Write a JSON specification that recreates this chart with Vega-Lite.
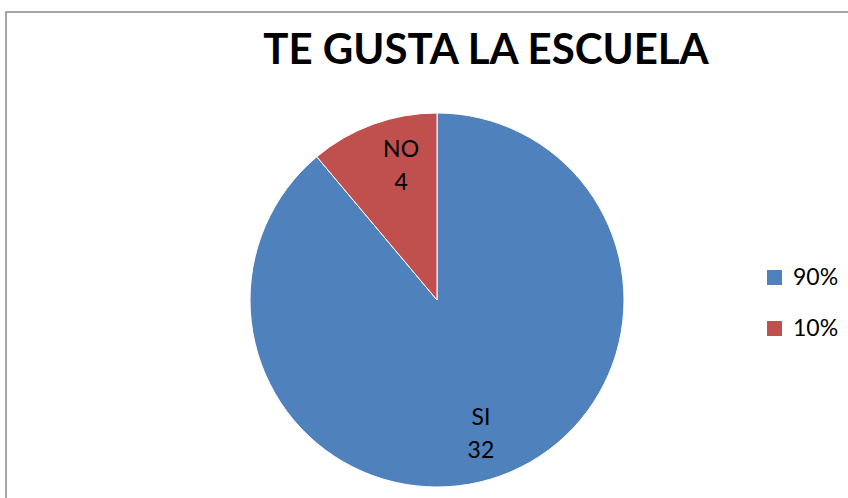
{
  "$schema": "https://vega.github.io/schema/vega-lite/v6.json",
  "autosize": {"type": "none"},
  "padding": {"left": 6, "top": 12, "right": 0, "bottom": 0},
  "width": 862,
  "height": 576,
  "background": "white",
  "view": {"stroke": "#888888", "strokeWidth": 1.5},
  "title": {
    "text": "TE GUSTA LA ESCUELA",
    "font": "Lato",
    "fontSize": 42,
    "fontWeight": "bold",
    "color": "#000000",
    "orient": "none",
    "anchor": "middle",
    "baseline": "alphabetic",
    "dx": 480,
    "dy": 52
  },
  "data": {
    "values": [
      {"respuesta": "SI", "cantidad": 32, "porcentaje": "90%"},
      {"respuesta": "NO", "cantidad": 4, "porcentaje": "10%"}
    ]
  },
  "encoding": {
    "theta": {"field": "cantidad", "type": "quantitative", "stack": true},
    "order": {"field": "cantidad", "type": "quantitative", "sort": "descending"},
    "detail": {"field": "porcentaje", "type": "nominal"}
  },
  "layer": [
    {
      "mark": {"type": "arc", "outerRadius": 187, "stroke": "white", "strokeWidth": 1},
      "encoding": {
        "color": {
          "field": "porcentaje",
          "type": "nominal",
          "scale": {"domain": ["90%", "10%"], "range": ["#4F81BD", "#C0504D"]},
          "legend": {
            "title": null,
            "orient": "none",
            "legendX": 757,
            "legendY": 254,
            "padding": 0,
            "symbolType": "square",
            "symbolSize": 225,
            "symbolStrokeWidth": 0,
            "labelFont": "Lato",
            "labelFontSize": 23,
            "labelColor": "#000000",
            "labelOffset": 7,
            "rowPadding": 27
          }
        }
      }
    },
    {
      "mark": {"type": "text", "radius": 140, "thetaOffset": 0.06, "dx": 4, "dy": -16, "font": "Lato", "fontSize": 23, "color": "#000000"},
      "encoding": {"text": {"field": "respuesta", "type": "nominal"}}
    },
    {
      "mark": {"type": "text", "radius": 140, "thetaOffset": 0.06, "dx": 4, "dy": 17, "font": "Lato", "fontSize": 23, "color": "#000000"},
      "encoding": {"text": {"field": "cantidad", "type": "quantitative"}}
    }
  ]
}
